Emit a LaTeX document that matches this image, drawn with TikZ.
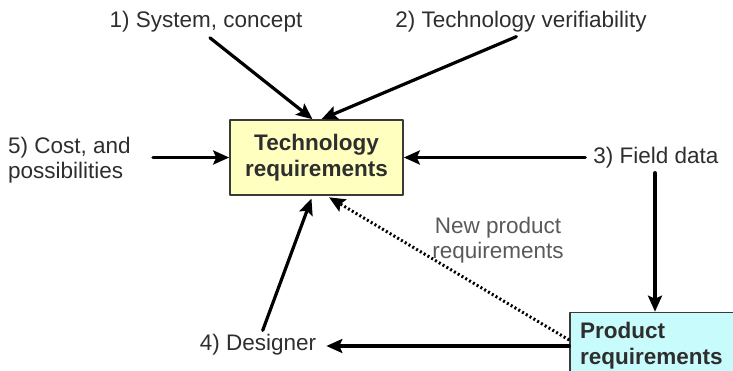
\documentclass[tikz,border=0pt]{standalone}
\usepackage{fontspec}
\setmainfont{Liberation Sans}
\usetikzlibrary{arrows.meta,calc,positioning}
\definecolor{techyellow}{HTML}{FFFFC0}
\definecolor{prodcyan}{HTML}{C8FCFC}
\definecolor{boxline}{HTML}{3A3A3A}
\definecolor{lbltxt}{HTML}{2E2E2E}

\begin{document}
\begin{tikzpicture}[
  x=1pt, y=-1pt, line cap=round, line join=round,
  every node/.style={font=\fontsize{22.5}{25}\selectfont, text=lbltxt},
  arr/.style ={line width=3.2pt, -{Stealth[length=16pt,width=14pt,inset=3pt]}},
  dotarr/.style={arr, line width=3pt, line cap=butt, dash pattern=on 2pt off 2.4pt},
  reqbox/.style={draw=boxline, line width=1.6pt, font=\bfseries\fontsize{22.5}{26}\selectfont, align=center},
  lbl/.style  ={inner sep=2pt}
]
\useasboundingbox (0,0) rectangle (733,371);

% --- boxes
\node[reqbox, fill=techyellow, minimum width=173pt, minimum height=75pt] (tech) at (316.5,157.5)
  {Technology\\requirements};
\node[reqbox, fill=prodcyan, minimum width=170pt, minimum height=67pt,
      text width=150pt, inner xsep=10pt, align=left] (prod) at (655,346)
  {Product\\requirements};

% --- inputs
\node[lbl] (sys) at (206,22) {1) System, concept};
\node[lbl] (ver) at (521,22) {2) Technology verifiability};
\node[lbl, anchor=west, align=left] (cost) at (6,160) {5) Cost, and\\possibilities};
\node[lbl] (field) at (656,158) {3) Field data};
\node[lbl] (designer) at (258,345) {4) Designer};
\node[lbl, align=center, text=black!65] (newreq) at (498,240) {New product\\requirements};

% --- connectors
\draw[arr, shorten <=5pt] (sys.south) -- ([xshift=-4pt]tech.north);
\draw[arr, shorten <=5pt] (ver.south) -- ([xshift=5pt]tech.north);
\draw[arr, shorten <=20pt] (cost.east |- tech.west) -- (tech.west);
\draw[arr, shorten <=6pt] (field.west |- tech.east) -- (tech.east);
\draw[arr, shorten <=2pt] (field.south -| prod.north) -- (prod.north);
\draw[arr, shorten >=8pt] (prod.west) -- (designer.east |- prod.west);
\draw[arr, shorten <=2pt, shorten >=3pt] ([xshift=4pt]designer.north) -- ([xshift=-4pt]tech.south);
\draw[dotarr, shorten >=3pt] ([yshift=6pt]prod.west) -- ([xshift=10pt]tech.south);

\end{tikzpicture}
\end{document}
